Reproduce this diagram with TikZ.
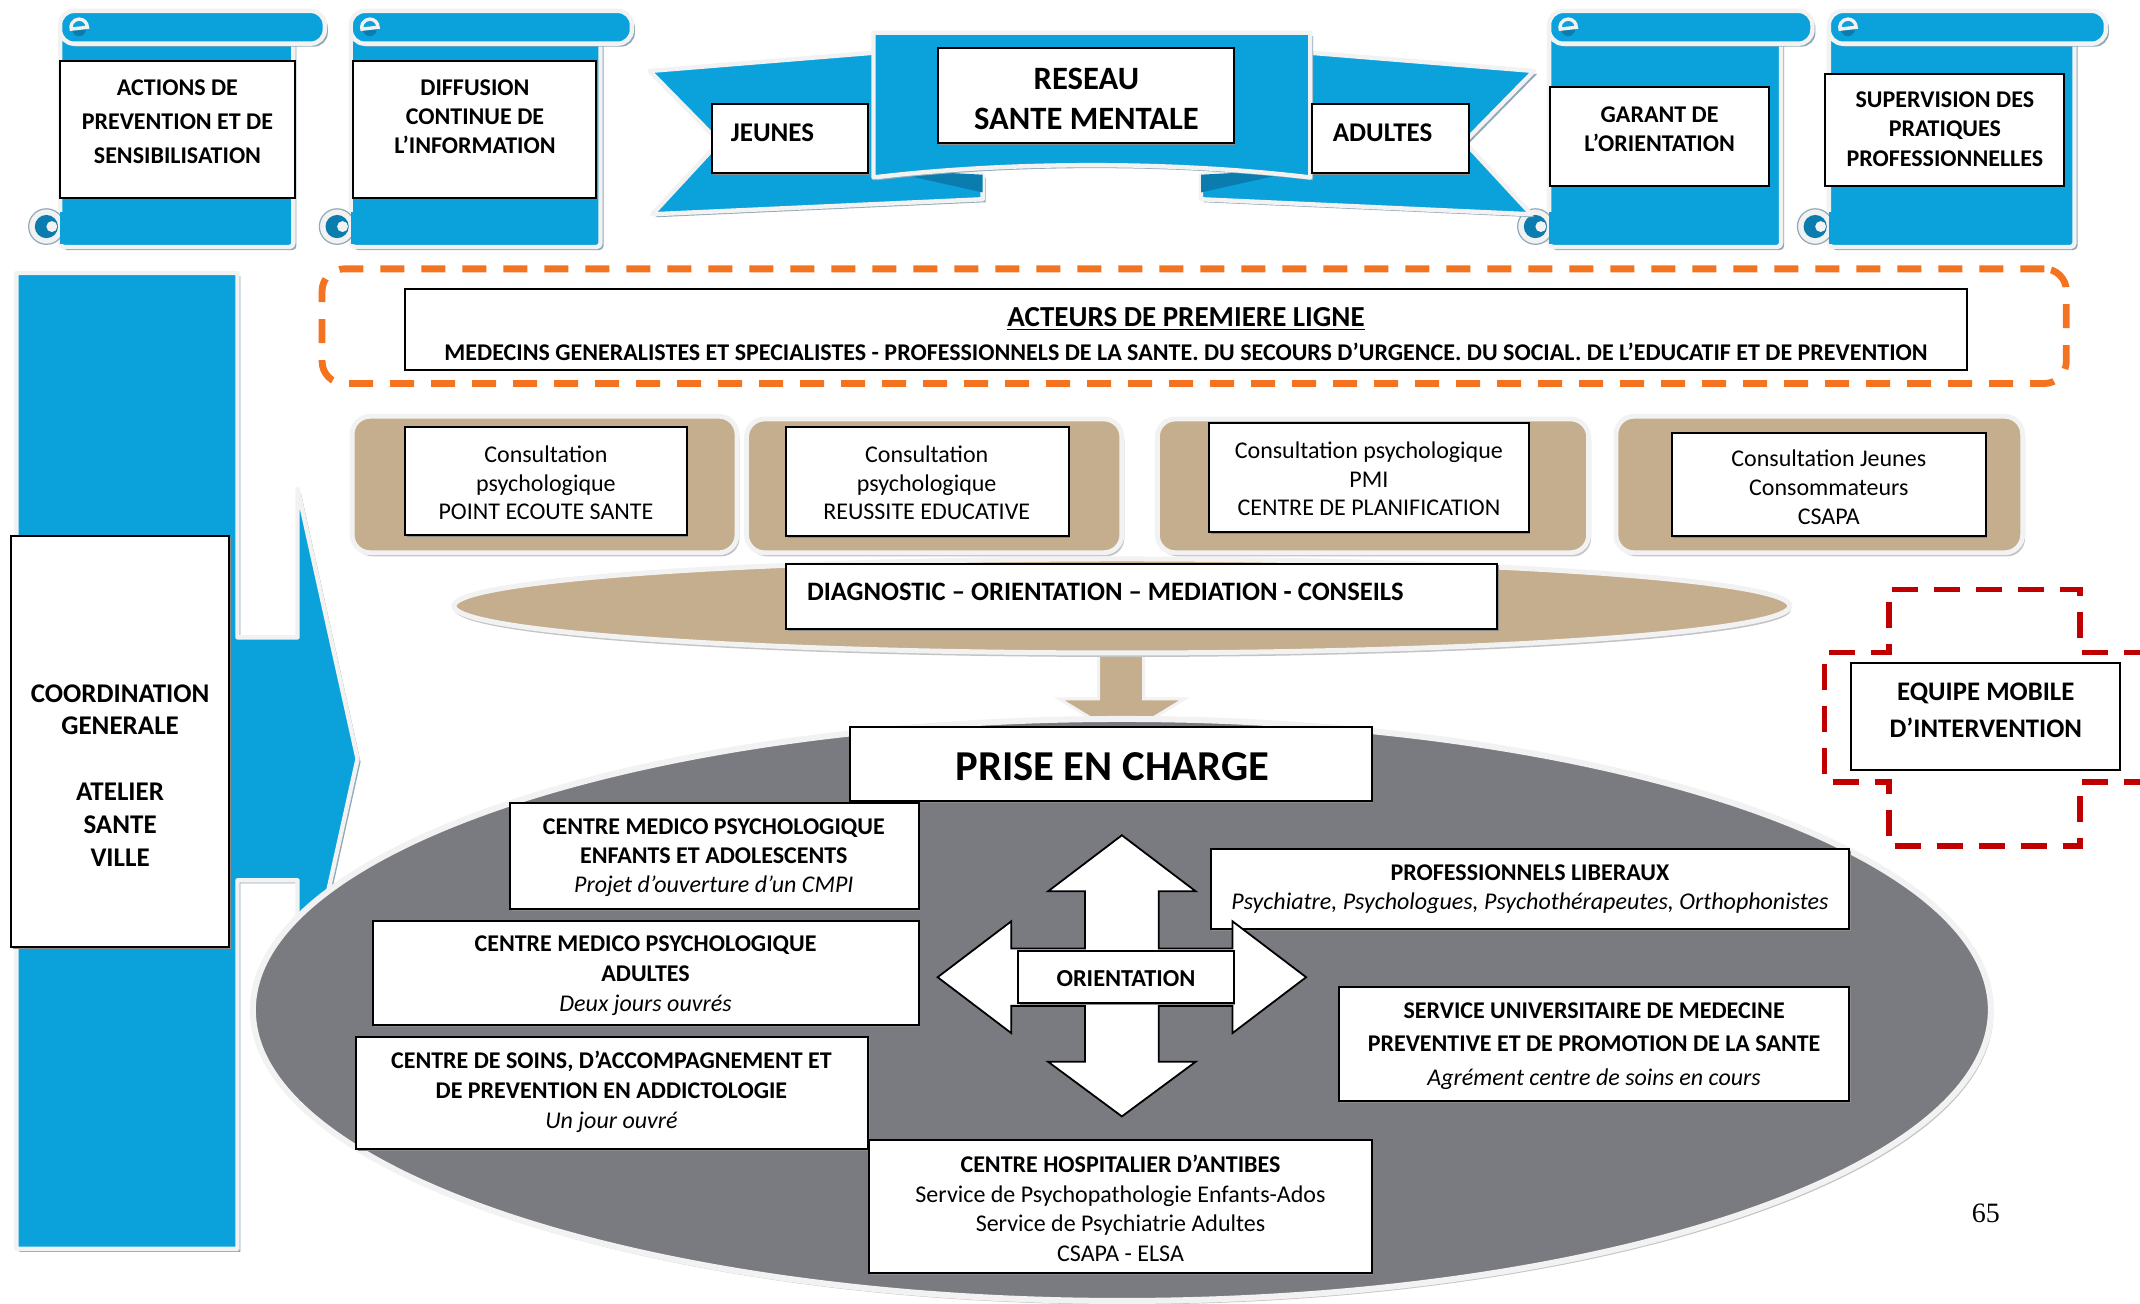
\documentclass[tikz,border=0pt]{standalone}
\usepackage{fontspec}
\setmainfont{Carlito}
\newfontfamily\pagenumfont{Liberation Serif}
\usetikzlibrary{shadows,fit,shapes.geometric}
\definecolor{sblue}{HTML}{0BA1DA}
\definecolor{sdblue}{HTML}{0A7DAE}
\definecolor{soutl}{HTML}{F2F2F2}
\definecolor{sshad}{HTML}{8FA9B8}
\definecolor{stan}{HTML}{C4AE8E}
\definecolor{sgrey}{HTML}{7A7B80}
\definecolor{sorange}{HTML}{F47320}
\definecolor{sred}{HTML}{C00000}
\definecolor{lshad}{HTML}{C4C4C4}
\newcommand\fs[2]{\fontsize{#1}{#2}\selectfont}
\tikzset{
  every node/.style={inner sep=0pt},
  outl/.style={draw=soutl, line width=2.2pt, line join=round},
  bluefill/.style={fill=sblue, outl},
  blueshad/.style={drop shadow={shadow xshift=1.5pt, shadow yshift=-1.5pt, fill=sshad, opacity=1}},
  greyshad/.style={drop shadow={shadow xshift=1.2pt, shadow yshift=-1.8pt, fill=lshad, opacity=1}},
  wbox/.style={rectangle, draw=black, fill=white, line width=1pt, inner sep=0pt,
    drop shadow={shadow xshift=0.8pt, shadow yshift=-0.8pt, fill=black!45, opacity=1}},
  txt/.style={align=center, inner sep=0pt},
  tanbox/.style={rectangle, fill=stan, draw=soutl, line width=2.4pt, rounded corners=9pt, inner sep=0pt, greyshad},
}
\newcommand\scrollpic[2]{%
\begin{scope}[shift={(#1,5)}]
  \path[bluefill, blueshad, rounded corners=2pt] (22,16) rectangle (#2-25,176);
  \path[fill=soutl, draw=sshad, line width=0.6pt] (12,161) circle[radius=13];
  \fill[sdblue] (12,161) circle[radius=8.5];
  \fill[soutl] (16,161) circle[radius=4];
  \fill[sblue] (22,150) rectangle (30,174);
  \path[bluefill, blueshad, rounded corners=7pt] (22,3) rectangle (#2-2,27);
  \fill[sblue] (36,15) circle[radius=10];
  \fill[sdblue] (41,16.5) arc[start angle=0, end angle=180, radius=5] -- cycle;
  \draw[soutl, line width=1.7pt] (29,16.5) -- (42,15) arc[start angle=0, end angle=-200, radius=6];
\end{scope}}
\begin{document}
\begin{tikzpicture}[x=0.6824pt, y=-0.6824pt]
\useasboundingbox (0,0) rectangle (1568,955);
\fill[white] (0,0) rectangle (1568,955);

% ---------- left column + arrow ----------
\path[bluefill, blueshad] (12,200) -- (174,200) -- (174,467) -- (218,467) -- (218,358)
  -- (262,556) -- (218,754) -- (218,645) -- (174,645) -- (174,915) -- (12,915) -- cycle;
\node[wbox, fit={(8,393)(168,694)}] (coord) {};
\node[txt, font=\bfseries\fs{13.5}{16.4}] (coord-t) at (88,568) {COORDINATION\\GENERALE\\[16.4pt]ATELIER\\SANTE\\VILLE};

% ---------- scrolls ----------
\scrollpic{22}{218}
\scrollpic{235}{230}
\scrollpic{1113}{217}
\scrollpic{1318}{227}
\node[wbox, fit={(44,45)(216,145)}] (actions) {};
\node[txt, font=\bfseries\fs{12}{17}] (actions-t) at (130,89) {ACTIONS DE\\PREVENTION ET DE\\SENSIBILISATION};
\node[wbox, fit={(259,45)(437,145)}] (diffusion) {};
\node[txt, font=\bfseries\fs{12}{14.7}] (diffusion-t) at (348,85.5) {DIFFUSION\\CONTINUE DE\\L’INFORMATION};
\node[wbox, fit={(1136,64)(1296,136)}] (garant) {};
\node[txt, font=\bfseries\fs{12}{14.3}] (garant-t) at (1216,94.5) {GARANT DE\\L’ORIENTATION};
\node[wbox, fit={(1337,54)(1512,136)}] (superv) {};
\node[txt, font=\bfseries\fs{12}{14.7}] (superv-t) at (1425,94.5) {SUPERVISION DES\\PRATIQUES\\PROFESSIONNELLES};

% ---------- banner ----------
\path[bluefill, blueshad] (476,52) -- (648,38) -- (648,125) -- (720,128) -- (720,146)
  -- (478,157) -- (527,104) -- cycle;
\fill[sdblue] (644,124) -- (720,128) -- (720,141) -- cycle;
\path[bluefill, blueshad] (1124,52) -- (952,38) -- (952,125) -- (880,128) -- (880,146)
  -- (1122,157) -- (1073,104) -- cycle;
\fill[sdblue] (956,124) -- (880,128) -- (880,141) -- cycle;
\path[bluefill, blueshad] (640,24) -- (960,24) -- (960,130)
  .. controls (860,118) and (740,118) .. (640,130) -- cycle;
\node[wbox, fit={(687,35)(904,105)}] (reseau) {};
\node[txt, font=\bfseries\fs{16.3}{19.8}] (reseau-t) at (796,72.5) {RESEAU\\SANTE MENTALE};
\node[wbox, fit={(522,76)(636,127)}] (jeunes) {};
\node[txt, font=\bfseries\fs{13.5}{15}] (jeunes-t) at (566,97) {JEUNES};
\node[wbox, fit={(961,76)(1076,127)}] (adultes) {};
\node[txt, font=\bfseries\fs{13.5}{15}] (adultes-t) at (1013,97) {ADULTES};

% ---------- acteurs de premiere ligne ----------
\node[rectangle, fit={(236,197)(1514,281)}, draw=sorange, line width=3.4pt,
  dash pattern=on 12pt off 8.5pt, rounded corners=11pt] (frontline) {};
\node[wbox, fit={(297,212)(1441,271)}] (acteurs) {};
\node[txt, font=\bfseries\fs{14.5}{16}] (acteurs-t) at (869,234) {\underline{ACTEURS DE PREMIERE LIGNE}};
\node[txt, font=\bfseries\fs{12}{13}] (acteurs-s) at (869,258) {MEDECINS GENERALISTES ET SPECIALISTES - PROFESSIONNELS DE LA SANTE. DU SECOURS D’URGENCE. DU SOCIAL. DE L’EDUCATIF ET DE PREVENTION};

% ---------- consultations ----------
\node[tanbox, fit={(258,305)(540,405)}] (tan1) {};
\node[tanbox, fit={(547,307)(822,405)}] (tan2) {};
\node[tanbox, fit={(848,307)(1164,405)}] (tan3) {};
\node[tanbox, fit={(1184,305)(1482,405)}] (tan4) {};
\node[wbox, fit={(297,313)(503,392)}] (cons1) {};
\node[txt, font=\fs{12}{14.3}] (cons1-t) at (400,354) {Consultation\\psychologique\\POINT ECOUTE SANTE};
\node[wbox, fit={(576,313)(783,393)}] (cons2) {};
\node[txt, font=\fs{12}{14.3}] (cons2-t) at (679,354) {Consultation\\psychologique\\REUSSITE EDUCATIVE};
\node[wbox, fit={(886,310)(1120,390)}] (cons3) {};
\node[txt, font=\fs{12}{14.3}] (cons3-t) at (1003,351) {Consultation psychologique\\PMI\\CENTRE DE PLANIFICATION};
\node[wbox, fit={(1225,317)(1455,393)}] (cons4) {};
\node[txt, font=\fs{12}{14.3}] (cons4-t) at (1340,357) {Consultation Jeunes\\Consommateurs\\CSAPA};

% ---------- diagnostic ----------
\path[fill=stan, draw=soutl, line width=1.5pt] (805,470) -- (838,470) -- (838,512) -- (868,512)
  -- (822,540) -- (776,512) -- (805,512) -- cycle;
\node[ellipse, fill=stan, draw=soutl, line width=2.5pt, minimum width=668pt, minimum height=47pt,
  drop shadow={shadow xshift=0.5pt, shadow yshift=-2pt, fill=lshad, opacity=1}] (diagell) at (822,444) {};
\node[wbox, fit={(576,413)(1097,461)}] (diag) {};
\node[txt, anchor=west, font=\bfseries\fs{13.3}{15}] (diag-t) at (591,434) {DIAGNOSTIC – ORIENTATION – MEDIATION - CONSEILS};

% ---------- prise en charge ----------
\node[ellipse, fill=sgrey, draw=soutl, line width=3pt, minimum width=869pt, minimum height=291pt,
  greyshad] (pecell) at (822,740) {};
\node[wbox, fit={(623,533)(1005,587)}] (pec) {};
\node[txt, font=\bfseries\fs{21.3}{24}] (pec-t) at (815,562) {PRISE EN CHARGE};

\node[wbox, fit={(374,588)(673,666)}] (cmpe) {};
\node[txt, font=\fs{12}{14.7}] (cmpe-t) at (523,628.5) {\bfseries CENTRE MEDICO PSYCHOLOGIQUE\\\bfseries ENFANTS ET ADOLESCENTS\\\itshape Projet d’ouverture d’un CMPI};
\node[wbox, fit={(273,675)(673,751)}] (cmpa) {};
\node[txt, font=\fs{12}{15}] (cmpa-t) at (473,715) {\bfseries CENTRE MEDICO PSYCHOLOGIQUE\\\bfseries ADULTES\\\itshape Deux jours ouvrés};
\node[wbox, fit={(261,760)(636,842)}] (csapa) {};
\node[txt, font=\fs{12}{15}] (csapa-t) at (448,800) {\bfseries CENTRE DE SOINS, D’ACCOMPAGNEMENT ET\\\bfseries DE PREVENTION EN ADDICTOLOGIE\\\itshape Un jour ouvré};
\node[wbox, fit={(637,835)(1005,933)}] (chant) {};
\node[txt, font=\fs{12}{14.8}] (chant-t) at (821,885.5) {\bfseries CENTRE HOSPITALIER D’ANTIBES\\Service de Psychopathologie Enfants-Ados\\Service de Psychiatrie Adultes\\CSAPA - ELSA};
\node[wbox, fit={(887,622)(1355,681)}] (proflib) {};
\node[txt, font=\fs{12}{14.3}] (proflib-t) at (1121,651.5) {\bfseries PROFESSIONNELS LIBERAUX\\\itshape Psychiatre, Psychologues, Psychothérapeutes, Orthophonistes};
\node[wbox, fit={(981,723)(1355,807)}] (sumpps) {};
\node[txt, font=\fs{12}{16.7}] (sumpps-t) at (1168,766.5) {\bfseries SERVICE UNIVERSITAIRE DE MEDECINE\\\bfseries PREVENTIVE ET DE PROMOTION DE LA SANTE\\\itshape Agrément centre de soins en cours};

% ---------- orientation cross ----------
\path[fill=white, draw=black, line width=0.9pt, line join=miter]
  (822,612) -- (876,653) -- (849,653) -- (849,695) -- (903,695) -- (903,675) -- (957,716)
  -- (903,757) -- (903,737) -- (849,737) -- (849,778) -- (876,778) -- (822,818) -- (768,778)
  -- (795,778) -- (795,737) -- (741,737) -- (741,757) -- (687,716) -- (741,675) -- (741,695)
  -- (795,695) -- (795,653) -- (768,653) -- cycle;
\node[wbox, fit={(746,697)(904,735)}] (orient) {};
\node[txt, font=\bfseries\fs{12.2}{14}] (orient-t) at (825,717) {ORIENTATION};

% ---------- equipe mobile ----------
\draw[sred, line width=2.7pt, dash pattern=on 13pt off 8pt]
  (1575,478) -- (1524,478) -- (1524,432) -- (1384,432) -- (1384,478) -- (1337,478)
  -- (1337,573) -- (1384,573) -- (1384,620) -- (1524,620) -- (1524,573) -- (1575,573);
\node[wbox, fit={(1356,486)(1553,564)}] (equipe) {};
\node[txt, font=\bfseries\fs{13.4}{18.4}] (equipe-t) at (1455,520.5) {EQUIPE MOBILE\\D’INTERVENTION};

% ---------- page number ----------
\node[font=\pagenumfont\fs{14}{16}] (pagenum) at (1455,889) {65};
\end{tikzpicture}
\end{document}
